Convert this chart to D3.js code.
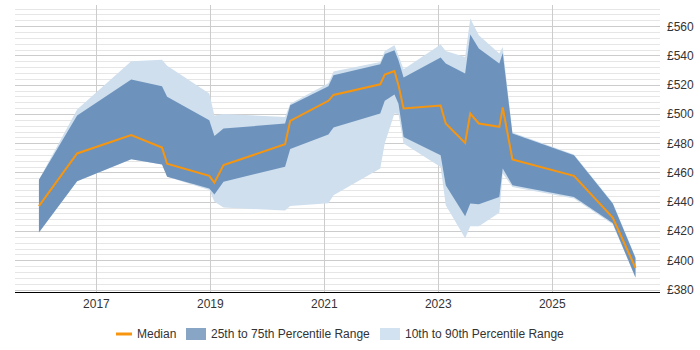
<!DOCTYPE html>
<html lang="en">
<head>
<meta charset="UTF-8">
<title>Percentile trend</title>
<script src="https://d3js.org/d3.v7.min.js"></script>
<style>
  body { margin: 0; background: #fff; }
  svg text { font-family: "Liberation Sans", Arial, sans-serif; fill: #333; }
</style>
</head>
<body>
<svg id="chart" width="700" height="350"></svg>
<script>
// decimal years for each sample
const years = [2016.0, 2016.67, 2017.62, 2018.16, 2018.25, 2018.99, 2019.08, 2019.24, 2020.32, 2020.41,
               2021.08, 2021.17, 2021.99, 2022.07, 2022.24, 2022.31, 2022.40, 2023.05, 2023.14, 2023.48,
               2023.57, 2023.72, 2024.08, 2024.14, 2024.31, 2025.39, 2026.07, 2026.47];
const median = [437, 473, 485.5, 477, 466, 457.7, 453, 465, 479.3, 495.3,
                509, 513, 520.3, 527, 529.4, 519.7, 503.7, 505.8, 493.5, 480.2,
                500.3, 493.5, 491.2, 504.4, 468.9, 457.7, 429.2, 394.8];
const p25 = [419, 454, 469, 465.5, 457, 449, 445, 453.6, 464, 476,
             486, 490.7, 500.3, 509, 513.3, 507, 484.3, 471.8, 451.3, 430,
             438.8, 438.3, 443.3, 462.7, 451.3, 443.3, 425.5, 388.2];
const p75 = [455, 499, 523.6, 519, 511.7, 495.7, 485, 490, 493.5, 506,
             519, 526.5, 534, 541, 543.6, 536.8, 525, 538.6, 534.5, 527.7,
             554.3, 544.8, 534.5, 541.7, 486.6, 471.8, 438.8, 401.6];
const p10 = [419, 454, 469, 465.5, 457, 448, 440, 436, 434, 437,
             439, 444.5, 462.7, 480, 500.3, 500, 479.8, 463.8, 437.6, 415,
             423.3, 423.3, 432.4, 459.3, 450.1, 442.2, 424.6, 388];
const p90 = [455, 503, 536, 537, 533, 514, 499, 500, 498, 507,
             521, 529, 535.6, 543, 547, 540, 530.6, 547.5, 543, 539,
             565.3, 553.8, 541.3, 545.8, 487.3, 472.3, 439.3, 402];

const yTicks = [380, 400, 420, 440, 460, 480, 500, 520, 540, 560];
const xTicks = [2017, 2019, 2021, 2023, 2025];
const legendLabels = ["Median", "25th to 75th Percentile Range", "10th to 90th Percentile Range"];

const svg = d3.select("#chart");
const plotLeft = 15, plotRight = 660, plotTop = 5, plotBottom = 292;

const x = d3.scaleLinear().domain([2015.58, 2026.9]).range([plotLeft, plotRight]);
const y = d3.scaleLinear().domain([380, 560]).range([289.5, 26.2]);

const data = years.map((t, i) => ({ t, med: median[i], lo: p25[i], hi: p75[i], lo10: p10[i], hi90: p90[i] }));

// minor grid every 4, major every 20
const minor = d3.range(380, 573, 4).filter(v => v % 20 !== 0);
svg.append("g").selectAll("line").data(minor).enter().append("line")
    .attr("x1", plotLeft).attr("x2", plotRight)
    .attr("y1", d => Math.round(y(d)) + 0.5).attr("y2", d => Math.round(y(d)) + 0.5)
    .attr("stroke", "#e6e6e6");
svg.append("g").selectAll("line").data(yTicks).enter().append("line")
    .attr("x1", plotLeft).attr("x2", plotRight)
    .attr("y1", d => Math.round(y(d)) + 0.5).attr("y2", d => Math.round(y(d)) + 0.5)
    .attr("stroke", "#cccccc");
svg.append("g").selectAll("line").data(xTicks).enter().append("line")
    .attr("x1", d => Math.round(x(d)) + 0.5).attr("x2", d => Math.round(x(d)) + 0.5)
    .attr("y1", plotTop).attr("y2", plotBottom)
    .attr("stroke", "#cccccc");

// bands
const area = (a, b) => d3.area().x(d => x(d.t)).y0(d => y(d[a])).y1(d => y(d[b]));
svg.append("path").datum(data).attr("d", area("lo10", "hi90")).attr("fill", "#cfdfee");
svg.append("path").datum(data).attr("d", area("lo", "hi")).attr("fill", "#6d93bd");

// median
svg.append("path").datum(data)
    .attr("d", d3.line().x(d => x(d.t)).y(d => y(d.med)))
    .attr("fill", "none").attr("stroke", "#f7960e").attr("stroke-width", 2);

// axes
const xAxis = svg.append("g").attr("transform", `translate(0,${plotBottom})`)
    .call(d3.axisBottom(x).tickValues(xTicks).tickFormat(d3.format("d")).tickSize(0).tickPadding(7));
xAxis.select(".domain").attr("stroke", "#000").attr("d", `M${plotLeft},0.5H${plotRight}`);
xAxis.selectAll("text").attr("font-size", 12);

const yAxis = svg.append("g").attr("transform", `translate(${plotRight},0)`)
    .call(d3.axisRight(y).tickValues(yTicks).tickFormat(d => "£" + d).tickSize(0).tickPadding(7));
yAxis.select(".domain").remove();
yAxis.selectAll("text").attr("font-size", 12);

// legend
const lg = svg.append("g").attr("transform", "translate(0,334)");
lg.append("line").attr("x1", 116).attr("x2", 132).attr("y1", 0).attr("y2", 0)
    .attr("stroke", "#f7960e").attr("stroke-width", 3);
lg.append("text").attr("x", 137).attr("y", 4).attr("font-size", 12).text(legendLabels[0]);
lg.append("rect").attr("x", 186).attr("y", -6).attr("width", 20).attr("height", 12).attr("fill", "#88a5c6");
lg.append("text").attr("x", 211).attr("y", 4).attr("font-size", 12).text(legendLabels[1]);
lg.append("rect").attr("x", 380).attr("y", -6).attr("width", 20).attr("height", 12).attr("fill", "#d3e2f1");
lg.append("text").attr("x", 405).attr("y", 4).attr("font-size", 12).text(legendLabels[2]);
</script>
</body>
</html>
